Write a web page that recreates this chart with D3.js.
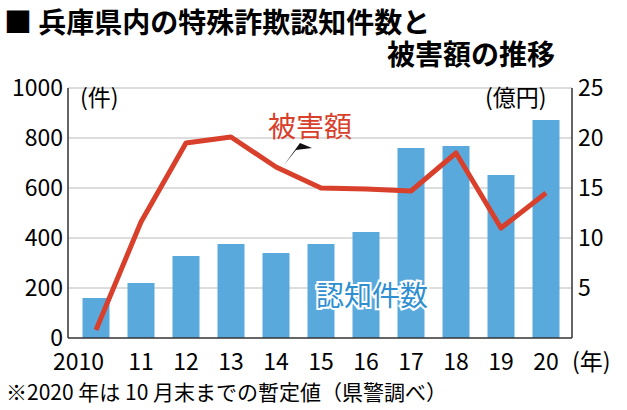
<!DOCTYPE html>
<html><head><meta charset="utf-8">
<script src="https://cdn.jsdelivr.net/npm/d3@7"></script>
<style>body{margin:0;background:#fff}text{font-family:"Noto Sans CJK JP",sans-serif}</style>
</head><body><svg id="c" width="627" height="410"></svg>
<script>
var years = ["2010","11","12","13","14","15","16","17","18","19","20"];
var cases = [160,220,328,376,340,376,424,760,768,652,872];
var damage = [0.8,11.6,19.5,20.1,17.1,15,14.9,14.7,18.5,11,14.5];
var leftTicks = [0,200,400,600,800,1000];
var rightTicks = [5,10,15,20,25];

var svg = d3.select("#c");
var x = d3.scalePoint().domain(years).range([96,546]);
var bw = 27;
var yL = d3.scaleLinear().domain([0,1000]).range([338,88]);
var yR = d3.scaleLinear().domain([0,25]).range([338,88]);

svg.append("g").selectAll("line").data(leftTicks.slice(1)).join("line")
  .attr("x1",68).attr("x2",572).attr("y1",d=>yL(d)).attr("y2",d=>yL(d))
  .attr("stroke","#bbb").attr("stroke-width",1);

svg.append("g").selectAll("rect").data(cases).join("rect")
  .attr("x",(d,i)=>x(years[i])-bw/2).attr("width",bw)
  .attr("y",d=>yL(d)).attr("height",d=>338-yL(d)).attr("fill","#5aa9dd");

svg.append("line").attr("x1",68).attr("x2",68).attr("y1",88).attr("y2",338).attr("stroke","#333").attr("stroke-width",1.5);
svg.append("line").attr("x1",572).attr("x2",572).attr("y1",88).attr("y2",338).attr("stroke","#333").attr("stroke-width",1.5);
svg.append("line").attr("x1",68).attr("x2",572).attr("y1",338).attr("y2",338).attr("stroke","#333").attr("stroke-width",1.5);

svg.append("g").selectAll("text").data(leftTicks).join("text")
  .attr("x",63).attr("y",d=>yL(d)+8).attr("text-anchor","end").attr("font-size",23).text(d=>d);
svg.append("g").selectAll("text").data(rightTicks).join("text")
  .attr("x",578).attr("y",d=>yR(d)+8).attr("font-size",23).text(d=>d);
svg.append("g").selectAll("text").data(years).join("text")
  .attr("x",(d,i)=>i===0?x(d)+8:x(d)).attr("y",370)
  .attr("text-anchor",(d,i)=>i===0?"end":"middle").attr("font-size",23).text(d=>d);

var line = d3.line().x(d=>x(d.y)).y(d=>yR(d.v));
svg.append("path").datum(damage.map((v,i)=>({y:years[i],v:v}))).attr("d",line).attr("fill","none")
  .attr("stroke","#d8402c").attr("stroke-width",5).attr("stroke-linejoin","round");

// pointer
svg.append("path").attr("d","M300,143 L284,165 L296,150 L312,148 Z").attr("fill","#111");
svg.append("text").attr("x",268).attr("y",137).attr("font-size",28).attr("fill","#d8402c").text("被害額");
svg.append("text").attr("x",316).attr("y",306).attr("font-size",28).attr("fill","#2f8fd0")
  .attr("stroke","#fff").attr("stroke-width",4).attr("paint-order","stroke").text("認知件数");

svg.append("text").attr("x",80).attr("y",106).attr("font-size",23).text("(件)");
svg.append("text").attr("x",485).attr("y",106).attr("font-size",23).text("(億円)");
svg.append("text").attr("x",572).attr("y",370).attr("font-size",23).text("(年)");

svg.append("text").attr("x",4).attr("y",33).attr("font-size",28).attr("font-weight","bold").text("■ 兵庫県内の特殊詐欺認知件数と");
svg.append("text").attr("x",555).attr("y",65).attr("text-anchor","end").attr("font-size",28).attr("font-weight","bold").text("被害額の推移");
svg.append("text").attr("x",6).attr("y",400).attr("font-size",21).text("※2020 年は 10 月末までの暫定値（県警調べ）");
</script></body></html>
